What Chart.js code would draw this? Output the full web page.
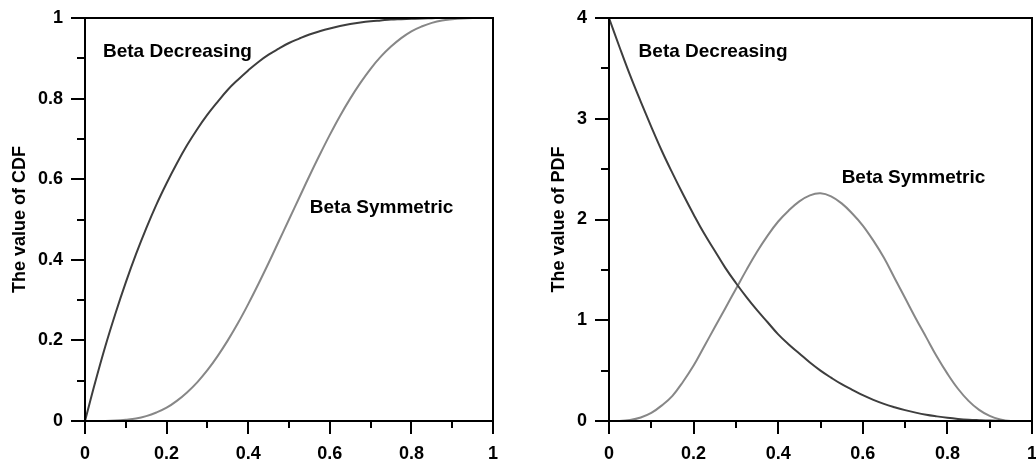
<!DOCTYPE html>
<html>
<head>
<meta charset="utf-8">
<script src="https://cdn.jsdelivr.net/npm/chart.js@4"></script>
<style>
  body { margin: 0; background: #fff; }
  #wrap { position: relative; width: 1036px; height: 459px; overflow: hidden; }
  canvas { position: absolute; top: 0; }
  #graficoCDF { left: 0; }
  #graficoPDF { left: 518px; }
</style>
</head>
<body>
<div id="wrap">
  <canvas id="graficoCDF" width="518" height="459"></canvas>
  <canvas id="graficoPDF" width="518" height="459"></canvas>
</div>
<script>
// x positions of the sampled points
const xs = [0, 0.025, 0.05, 0.075, 0.1, 0.125, 0.15, 0.175, 0.2, 0.225, 0.25,
  0.275, 0.3, 0.325, 0.35, 0.375, 0.4, 0.425, 0.45, 0.475, 0.5,
  0.525, 0.55, 0.575, 0.6, 0.625, 0.65, 0.675, 0.7, 0.725, 0.75,
  0.775, 0.8, 0.825, 0.85, 0.875, 0.9, 0.925, 0.95, 0.975, 1];

// CDF values
const cdfDecreasing = [0, 0.096, 0.186, 0.268, 0.344, 0.414, 0.478, 0.537, 0.59, 0.639, 0.684,
  0.724, 0.76, 0.792, 0.822, 0.847, 0.87, 0.891, 0.909, 0.924, 0.938,
  0.949, 0.959, 0.967, 0.974, 0.98, 0.985, 0.989, 0.992, 0.994, 0.996,
  0.997, 0.998, 0.999, 0.9995, 1, 1, 1, 1, 1, 1];
const cdfSymmetric = [0, 0, 0, 0.001, 0.003, 0.006, 0.012, 0.021, 0.033, 0.05, 0.071,
  0.096, 0.126, 0.161, 0.2, 0.243, 0.29, 0.34, 0.392, 0.446, 0.5,
  0.554, 0.608, 0.66, 0.71, 0.757, 0.8, 0.839, 0.874, 0.904, 0.929,
  0.95, 0.967, 0.979, 0.988, 0.994, 0.997, 0.999, 1, 1, 1];

// PDF values
const pdfDecreasing = [4, 3.71, 3.43, 3.17, 2.92, 2.68, 2.46, 2.25, 2.05, 1.86, 1.69,
  1.52, 1.37, 1.23, 1.1, 0.98, 0.86, 0.76, 0.67, 0.58, 0.5,
  0.43, 0.365, 0.31, 0.256, 0.21, 0.17, 0.137, 0.108, 0.083, 0.062,
  0.046, 0.032, 0.021, 0.013, 0.008, 0.004, 0.002, 0.0005, 0, 0];
const pdfSymmetric = [0, 0, 0.01, 0.035, 0.08, 0.155, 0.25, 0.39, 0.55, 0.74, 0.93,
  1.12, 1.31, 1.5, 1.68, 1.84, 1.98, 2.09, 2.18, 2.24, 2.26,
  2.23, 2.16, 2.06, 1.94, 1.79, 1.62, 1.42, 1.22, 1.02, 0.83,
  0.64, 0.47, 0.32, 0.2, 0.11, 0.05, 0.015, 0, 0, 0];

// tick values
const xMajor = [0, 0.2, 0.4, 0.6, 0.8, 1];
const xMinor = [0.1, 0.3, 0.5, 0.7, 0.9];
const cdfMajor = [0, 0.2, 0.4, 0.6, 0.8, 1];
const cdfMinor = [0.1, 0.3, 0.5, 0.7, 0.9];
const pdfMajor = [0, 1, 2, 3, 4];
const pdfMinor = [0.5, 1.5, 2.5, 3.5];

const nomeDecreasing = "Beta Decreasing";
const nomeSymmetric = "Beta Symmetric";

const corEscura = "#3e3e3e";
const corClara = "#878787";
const fonte = '"Liberation Sans", Arial, sans-serif';

Chart.defaults.color = "#000";
Chart.defaults.font.family = fonte;

// box, major/minor ticks and curve names
const decoracao = {
  id: "decoracao",
  afterDraw(chart, args, opts) {
    const { ctx, chartArea: a } = chart;
    const x = chart.scales.x;
    const y = chart.scales.y;
    ctx.save();
    ctx.strokeStyle = "#000";
    ctx.lineWidth = 2;
    ctx.strokeRect(a.left, a.top, a.right - a.left, a.bottom - a.top);
    ctx.beginPath();
    opts.xMajor.forEach((v) => {
      const p = Math.round(x.getPixelForValue(v));
      ctx.moveTo(p, a.bottom);
      ctx.lineTo(p, a.bottom + 13);
    });
    opts.xMinor.forEach((v) => {
      const p = Math.round(x.getPixelForValue(v));
      ctx.moveTo(p, a.bottom);
      ctx.lineTo(p, a.bottom + 7);
    });
    opts.yMajor.forEach((v) => {
      const p = Math.round(y.getPixelForValue(v));
      ctx.moveTo(a.left, p);
      ctx.lineTo(a.left - 14, p);
    });
    opts.yMinor.forEach((v) => {
      const p = Math.round(y.getPixelForValue(v));
      ctx.moveTo(a.left, p);
      ctx.lineTo(a.left - 8, p);
    });
    ctx.stroke();

    ctx.fillStyle = "#000";
    ctx.font = "bold 19px " + fonte;
    ctx.textAlign = "left";
    ctx.textBaseline = "middle";
    opts.notas.forEach((n) => {
      ctx.fillText(n.texto, x.getPixelForValue(n.x), y.getPixelForValue(n.y));
    });
    ctx.restore();
  },
};

function pontos(ys) {
  return xs.map((x, i) => ({ x: x, y: ys[i] }));
}

function rotulo(v) {
  return String(Number(v.toFixed(1)));
}

function criarGrafico(id, cfg) {
  return new Chart(document.getElementById(id), {
    type: "line",
    data: {
      datasets: [
        {
          label: nomeDecreasing,
          data: pontos(cfg.decreasing),
          borderColor: corEscura,
          borderWidth: 2,
          pointRadius: 0,
          tension: 0.4,
          clip: false,
        },
        {
          label: nomeSymmetric,
          data: pontos(cfg.symmetric),
          borderColor: corClara,
          borderWidth: 2,
          pointRadius: 0,
          tension: 0.4,
          clip: false,
        },
      ],
    },
    options: {
      responsive: false,
      animation: false,
      layout: { padding: { left: 0, top: 18, right: cfg.padDireita, bottom: 0 } },
      plugins: {
        legend: { display: false },
        tooltip: { enabled: false },
        decoracao: {
          xMajor: xMajor,
          xMinor: xMinor,
          yMajor: cfg.yMajor,
          yMinor: cfg.yMinor,
          notas: cfg.notas,
        },
      },
      scales: {
        x: {
          type: "linear",
          min: 0,
          max: 1,
          grid: { display: false, drawTicks: false },
          border: { display: false },
          ticks: {
            stepSize: 0.2,
            padding: 22,
            maxRotation: 0,
            font: { size: 18, weight: "bold" },
            callback: rotulo,
          },
          afterFit(s) {
            s.height = 38;
            s.paddingLeft = 0;
            s.paddingRight = 0;
          },
        },
        y: {
          min: 0,
          max: cfg.yMax,
          grid: { display: false, drawTicks: false },
          border: { display: false },
          ticks: {
            stepSize: cfg.yStep,
            padding: 22,
            font: { size: 18, weight: "bold" },
            callback: rotulo,
          },
          title: {
            display: true,
            text: cfg.titulo,
            font: { size: 18, weight: "bold" },
            padding: { top: cfg.padTitulo, bottom: 0 },
          },
          afterFit(s) {
            s.width = cfg.larguraY;
            s.paddingTop = 0;
            s.paddingBottom = 0;
          },
        },
      },
    },
    plugins: [decoracao],
  });
}

criarGrafico("graficoCDF", {
  decreasing: cdfDecreasing,
  symmetric: cdfSymmetric,
  yMax: 1,
  yStep: 0.2,
  yMajor: cdfMajor,
  yMinor: cdfMinor,
  titulo: "The value of CDF",
  larguraY: 85,
  padTitulo: 9,
  padDireita: 25,
  notas: [
    { texto: nomeDecreasing, x: 0.044, y: 0.916 },
    { texto: nomeSymmetric, x: 0.551, y: 0.529 },
  ],
});

criarGrafico("graficoPDF", {
  decreasing: pdfDecreasing,
  symmetric: pdfSymmetric,
  yMax: 4,
  yStep: 1,
  yMajor: pdfMajor,
  yMinor: pdfMinor,
  titulo: "The value of PDF",
  larguraY: 91,
  padTitulo: 30,
  padDireita: 4,
  notas: [
    { texto: nomeDecreasing, x: 0.07, y: 3.66 },
    { texto: nomeSymmetric, x: 0.55, y: 2.41 },
  ],
});
</script>
</body>
</html>
